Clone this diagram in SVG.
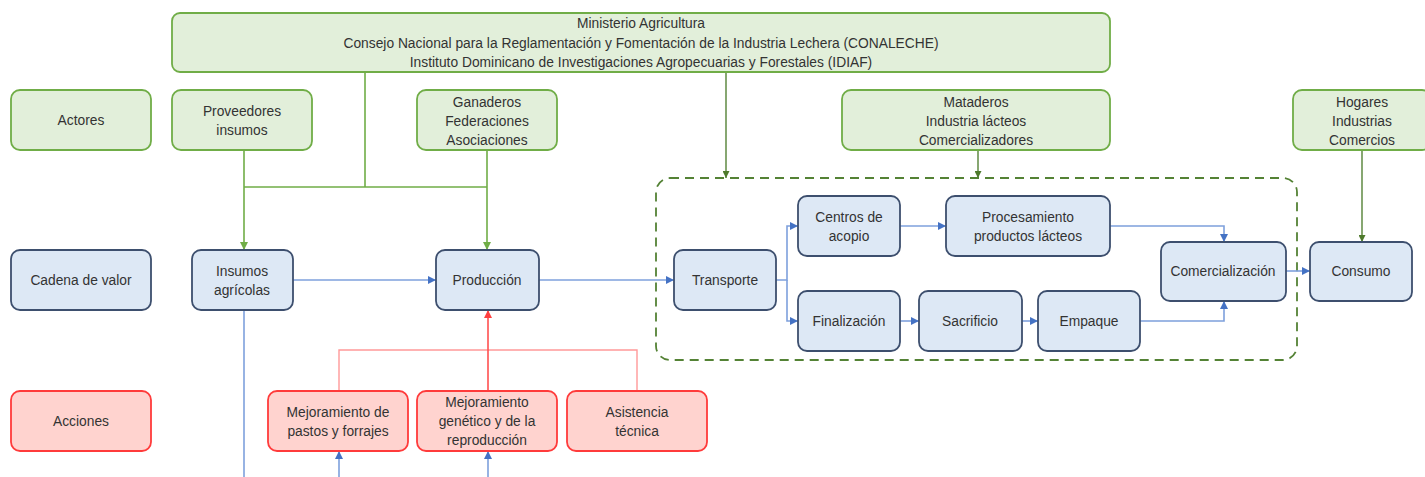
<svg xmlns="http://www.w3.org/2000/svg" width="1425" height="477" viewBox="0 0 1425 477">
<defs>
<style>
.g{fill:#e2efda;stroke:#70ad47;stroke-width:1.8}
.b{fill:#dde8f5;stroke:#3d4f6e;stroke-width:1.8}
.r{fill:#ffd3cf;stroke:#ff3b3b;stroke-width:1.8}
text{font-family:"Liberation Sans",Arial,sans-serif;font-size:13.8px;fill:#333;text-anchor:middle}
.cg{stroke:#70ad47;stroke-width:1.6;fill:none}
.cdg{stroke:#548235;stroke-width:1.4;fill:none}
.cb{stroke:#7ea0dc;stroke-width:1.6;fill:none}
.cr{stroke:#ff9999;stroke-width:1.4;fill:none}
.crs{stroke:#ff5050;stroke-width:1.6;fill:none}
</style>
<marker id="ag" viewBox="0 0 10 10" refX="10" refY="5" markerWidth="7" markerHeight="7" orient="auto" markerUnits="userSpaceOnUse"><path d="M0,0L10,5L0,10z" fill="#4e7a2c"/></marker>
<marker id="agl" viewBox="0 0 10 10" refX="10" refY="5" markerWidth="8" markerHeight="8" orient="auto" markerUnits="userSpaceOnUse"><path d="M0,0L10,5L0,10z" fill="#70ad47"/></marker>
<marker id="ab" viewBox="0 0 10 10" refX="10" refY="5" markerWidth="8" markerHeight="8" orient="auto" markerUnits="userSpaceOnUse"><path d="M0,0L10,5L0,10z" fill="#4472c4"/></marker>
<marker id="ar" viewBox="0 0 10 10" refX="10" refY="5" markerWidth="8" markerHeight="8" orient="auto" markerUnits="userSpaceOnUse"><path d="M0,0L10,5L0,10z" fill="#ff4040"/></marker>
</defs>
<rect width="1425" height="477" fill="#fff"/>
<g id="container"><rect x="656" y="178" width="641" height="182" rx="14" fill="none" stroke="#548235" stroke-width="1.8" stroke-dasharray="9,6"/></g>
<g id="connectors">
<path class="cg" d="M365,72V187M244,187H487"/>
<path class="cg" d="M244,150V250" marker-end="url(#agl)"/>
<path class="cg" d="M487,150V250" marker-end="url(#agl)"/>
<path class="cdg" d="M726,72V178" marker-end="url(#ag)"/>
<path class="cdg" d="M978,150V178" marker-end="url(#ag)"/>
<path class="cdg" d="M1362,150V242" marker-end="url(#ag)"/>
<path class="cb" d="M293,280H436" marker-end="url(#ab)"/>
<path class="cb" d="M539,280H674" marker-end="url(#ab)"/>
<path class="cb" d="M776,280H787V226H798" marker-end="url(#ab)"/>
<path class="cb" d="M787,280V321H798" marker-end="url(#ab)"/>
<path class="cb" d="M900,226H946" marker-end="url(#ab)"/>
<path class="cb" d="M900,321H919" marker-end="url(#ab)"/>
<path class="cb" d="M1022,321H1038" marker-end="url(#ab)"/>
<path class="cb" d="M1110,226H1224V242" marker-end="url(#ab)"/>
<path class="cb" d="M1140,321H1224V301" marker-end="url(#ab)"/>
<path class="cb" d="M1286,271H1310" marker-end="url(#ab)"/>
<path class="cb" d="M244,310V477"/>
<path class="cb" d="M339,477V451" marker-end="url(#ab)"/>
<path class="cb" d="M488,477V451" marker-end="url(#ab)"/>
<path class="cr" d="M339,391V350H637V391"/>
<path class="crs" d="M488,391V310" marker-end="url(#ar)"/>
</g>
<g id="n-top"><rect class="g" x="172" y="13" width="938" height="59" rx="8"/><text x="641" y="28">Ministerio Agricultura</text><text x="641" y="48">Consejo Nacional para la Reglamentación y Fomentación de la Industria Lechera (CONALECHE)</text><text x="641" y="67">Instituto Dominicano de Investigaciones Agropecuarias y Forestales (IDIAF)</text></g>
<g id="n-actores"><rect class="g" x="11" y="90" width="140" height="60" rx="9"/><text x="81" y="125">Actores</text></g>
<g id="n-proveedores"><rect class="g" x="172" y="90" width="140" height="60" rx="9"/><text x="242" y="116">Proveedores</text><text x="242" y="135">insumos</text></g>
<g id="n-ganaderos"><rect class="g" x="417" y="90" width="140" height="60" rx="9"/><text x="487" y="107">Ganaderos</text><text x="487" y="126">Federaciones</text><text x="487" y="145">Asociaciones</text></g>
<g id="n-mataderos"><rect class="g" x="842" y="90" width="268" height="60" rx="9"/><text x="976" y="107">Mataderos</text><text x="976" y="126">Industria lácteos</text><text x="976" y="145">Comercializadores</text></g>
<g id="n-hogares"><rect class="g" x="1293" y="90" width="138" height="60" rx="9"/><text x="1362" y="107">Hogares</text><text x="1362" y="126">Industrias</text><text x="1362" y="145">Comercios</text></g>
<g id="n-cadena"><rect class="b" x="11" y="250" width="140" height="60" rx="9"/><text x="81" y="285">Cadena de valor</text></g>
<g id="n-insumos"><rect class="b" x="192" y="250" width="101" height="60" rx="9"/><text x="242" y="276">Insumos</text><text x="242" y="295">agrícolas</text></g>
<g id="n-produccion"><rect class="b" x="436" y="250" width="103" height="60" rx="9"/><text x="487" y="285">Producción</text></g>
<g id="n-transporte"><rect class="b" x="674" y="250" width="102" height="60" rx="9"/><text x="725" y="285">Transporte</text></g>
<g id="n-centros"><rect class="b" x="798" y="196" width="102" height="60" rx="9"/><text x="849" y="222">Centros de</text><text x="849" y="241">acopio</text></g>
<g id="n-procesamiento"><rect class="b" x="946" y="196" width="164" height="60" rx="9"/><text x="1028" y="222">Procesamiento</text><text x="1028" y="241">productos lácteos</text></g>
<g id="n-finalizacion"><rect class="b" x="798" y="291" width="102" height="60" rx="9"/><text x="849" y="326">Finalización</text></g>
<g id="n-sacrificio"><rect class="b" x="919" y="291" width="103" height="60" rx="9"/><text x="970" y="326">Sacrificio</text></g>
<g id="n-empaque"><rect class="b" x="1038" y="291" width="102" height="60" rx="9"/><text x="1089" y="326">Empaque</text></g>
<g id="n-comercializacion"><rect class="b" x="1161" y="242" width="125" height="59" rx="9"/><text x="1223" y="276">Comercialización</text></g>
<g id="n-consumo"><rect class="b" x="1310" y="242" width="102" height="59" rx="9"/><text x="1361" y="276">Consumo</text></g>
<g id="n-acciones"><rect class="r" x="11" y="391" width="140" height="60" rx="9"/><text x="81" y="426">Acciones</text></g>
<g id="n-pastos"><rect class="r" x="268" y="391" width="140" height="60" rx="9"/><text x="338" y="417">Mejoramiento de</text><text x="338" y="436">pastos y forrajes</text></g>
<g id="n-genetico"><rect class="r" x="417" y="391" width="140" height="60" rx="9"/><text x="487" y="407">Mejoramiento</text><text x="487" y="426">genético y de la</text><text x="487" y="445">reproducción</text></g>
<g id="n-asistencia"><rect class="r" x="567" y="391" width="140" height="60" rx="9"/><text x="637" y="417">Asistencia</text><text x="637" y="436">técnica</text></g>
</svg>
